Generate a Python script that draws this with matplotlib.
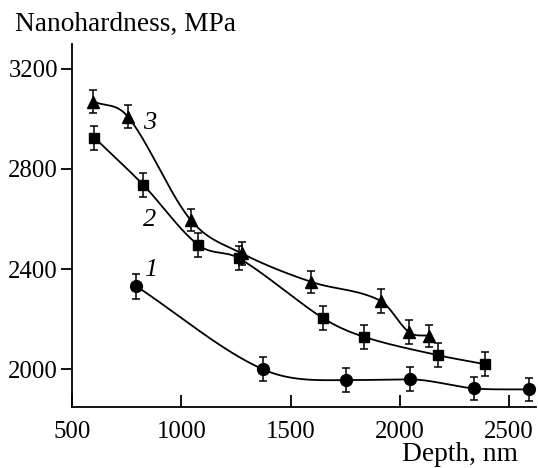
import numpy as np
import matplotlib
matplotlib.use("Agg")
import matplotlib.pyplot as plt

plt.rcParams['font.family'] = ['Liberation Serif', 'DejaVu Serif']

# curve 1 (circles)
depth_1 = [793, 1372, 1753, 2046, 2340, 2589]
hard_1 = [2332, 2000, 1956, 1959, 1923, 1919]
err_1 = [50, 48, 48, 48, 45, 45]

# curve 2 (squares)
depth_2 = [602, 826, 1078, 1264, 1650, 1836, 2173, 2389]
hard_2 = [2925, 2736, 2496, 2443, 2203, 2129, 2056, 2020]
err_2 = [48, 48, 48, 48, 48, 48, 48, 48]

# curve 3 (triangles)
depth_3 = [597, 755, 1043, 1276, 1593, 1912, 2043, 2133]
hard_3 = [3069, 3009, 2596, 2463, 2349, 2273, 2147, 2133]
err_3 = [45, 45, 45, 45, 45, 48, 48, 45]

labels = ['1', '2', '3']
label_pos = [(861, 2396), (857, 2596), (854, 2985)]


def smooth_curve(x, y, xs):
    # cubic hermite through the points, catmull-rom tangents
    x = np.asarray(x, float)
    y = np.asarray(y, float)
    h = np.diff(x)
    d = np.diff(y) / h
    m = np.zeros_like(y)
    m[0] = d[0]
    m[-1] = d[-1]
    for k in range(1, len(x) - 1):
        if d[k - 1] * d[k] > 0:
            m[k] = (y[k + 1] - y[k - 1]) / (x[k + 1] - x[k - 1])
    idx = np.clip(np.searchsorted(x, xs) - 1, 0, len(x) - 2)
    t = (xs - x[idx]) / h[idx]
    h00 = 2 * t**3 - 3 * t**2 + 1
    h10 = t**3 - 2 * t**2 + t
    h01 = -2 * t**3 + 3 * t**2
    h11 = t**3 - t**2
    return h00 * y[idx] + h10 * h[idx] * m[idx] + h01 * y[idx + 1] + h11 * h[idx] * m[idx + 1]


fig = plt.figure(figsize=(5.38, 4.68), dpi=100)
ax = fig.add_axes([0.1338, 0.131, 0.862, 0.7756])

series = [
    (depth_1, hard_1, err_1, 'o', 8.5),
    (depth_2, hard_2, err_2, 's', 7),
    (depth_3, hard_3, err_3, '^', 9),
]
for xd, yd, ed, mk, ms in series:
    xs = np.linspace(xd[0], xd[-1], 400)
    ax.plot(xs, smooth_curve(xd, yd, xs), color='black', lw=1.3, zorder=2)
    ax.errorbar(xd, yd, yerr=ed, fmt=mk, color='black', ms=ms,
                elinewidth=1.1, capsize=3, capthick=1.1, zorder=3)

for lab, (lx, ly) in zip(labels, label_pos):
    ax.text(lx, ly, lab, fontsize=19, style='italic', ha='center', va='center')

ax.set_xlim(500, 2622)
ax.set_ylim(1850, 3300)
ax.set_xticks([500, 1000, 1500, 2000, 2500])
ax.set_yticks([2000, 2400, 2800, 3200])
ax.spines['top'].set_visible(False)
ax.spines['right'].set_visible(False)
for s in ['left', 'bottom']:
    ax.spines[s].set_linewidth(1.3)
ax.tick_params(axis='x', direction='in', length=9, width=1.3, labelsize=17.8, pad=10)
ax.tick_params(axis='y', direction='out', length=8, width=1.3, labelsize=17.8, pad=2)

fig.text(0.028, 0.948, 'Nanohardness, MPa', fontsize=19.7, ha='left', va='center')
fig.text(0.962, 0.028, 'Depth, nm', fontsize=19.7, ha='right', va='center')

fig.savefig('out.png', dpi=100)
